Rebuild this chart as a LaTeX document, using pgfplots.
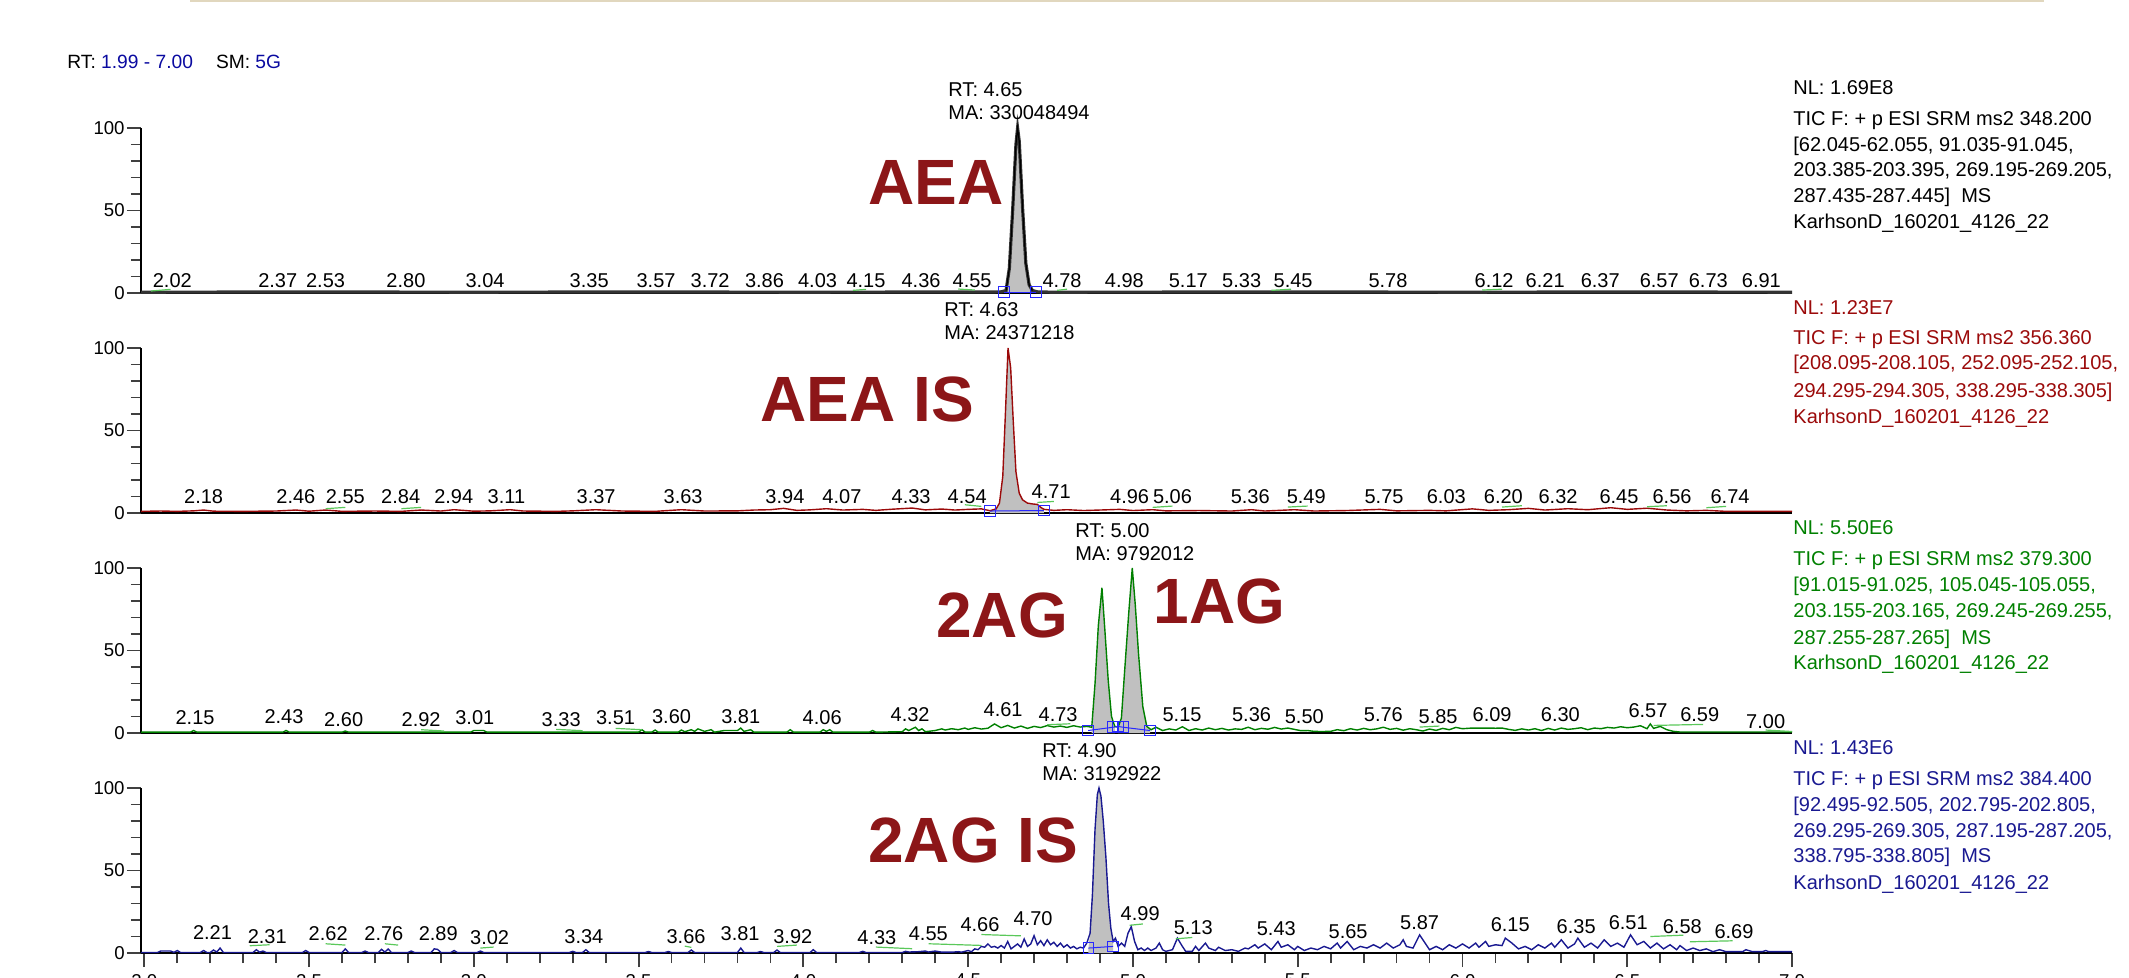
\documentclass[border=0pt]{standalone}
\usepackage{fontspec}
\setmainfont{Liberation Sans}
\usepackage{pgfplots}
\pgfplotsset{compat=1.18}

\definecolor{pkred}{RGB}{140,22,24}
\definecolor{trred}{RGB}{155,10,10}
\definecolor{trgreen}{RGB}{0,128,0}
\definecolor{trblue}{RGB}{25,25,145}
\definecolor{hdblue}{RGB}{10,10,160}
\definecolor{fillgray}{RGB}{192,192,192}
\definecolor{intblue}{RGB}{40,40,255}
\definecolor{tan}{RGB}{225,215,190}
\definecolor{dashgreen}{RGB}{90,200,90}

\newcommand\lbl{\fontsize{10}{12}\selectfont}
\newcommand\biglbl{\fontsize{32}{32}\selectfont\bfseries}

\pgfplotsset{chrom/.style={
  scale only axis, width=825.5pt, height=82.5pt,
  xmin=1.99, xmax=7.00, ymin=0, ymax=100,
  axis x line=bottom, axis y line=left,
  axis line style={-, line width=1pt, black},
  ytick={0,50,100}, minor ytick={10,20,30,40,60,70,80,90},
  tick align=outside, major tick length=7pt, minor tick length=5pt,
  tick style={line width=0.9pt, black!75},
  yticklabel style={font=\fontsize{9.3}{11}\selectfont, inner sep=1pt},
  /pgf/number format/assume math mode=true,
  clip=false, xtick=\empty, anchor=south west,
  unbounded coords=jump,
},
pklabels/.style={draw=none, mark=none, nodes near coords, point meta=explicit symbolic,
  every node near coord/.append style={anchor=base, inner sep=0pt, font=\lbl, text=black}},
intbox/.style={only marks, mark=square, mark size=2.7pt, mark options={draw=intblue, line width=0.5pt}},
dashes/.style={dashgreen, line width=0.6pt, mark=none},
}

\begin{document}
\begin{tikzpicture}
\useasboundingbox (0,0) rectangle (1064.5pt,-489pt);

% ---------------- Panel 1: AEA ----------------
\begin{axis}[chrom, at={(70.5pt,-146.5pt)}]
\addplot[fill=fillgray, draw=none] coordinates {
(4.609,0.4)(4.615,1.5)(4.625,15)(4.635,50)(4.645,90)(4.65,100)(4.655,92)(4.665,52)(4.675,18)(4.685,5)(4.695,1.5)(4.706,0.5)} \closedcycle;
\addplot[black!80, line width=1.6pt] coordinates {
(1.99,0.5)(2.5,0.6)(3.0,0.5)(3.5,0.6)(4.0,0.5)(4.55,0.6)(4.60,0.7)(4.615,1.5)(4.625,15)(4.635,50)(4.645,90)(4.65,100)(4.655,92)(4.665,52)(4.675,18)(4.685,5)(4.695,1.5)(4.71,0.7)(4.75,0.5)(5.5,0.6)(6.0,0.5)(6.5,0.6)(7.00,0.5)};
\addplot[black, line width=0.6pt] coordinates {(4.615,1.5)(4.625,15)(4.635,50)(4.645,90)(4.65,100)(4.655,92)(4.665,52)(4.675,18)(4.685,5)(4.695,1.5)};
\addplot[intblue, line width=0.5pt] coordinates {(4.609,0.5)(4.706,0.5)};
\addplot[intblue, intbox] coordinates {(4.609,0.5)(4.706,0.5)};
\addplot[dashes] coordinates {
(2.02,1.2)(2.08,2.2) (2.1,nan)
(4.15,1.6)(4.19,2.2) (4.2,nan)
(4.47,2.4)(4.52,1.8) (4.53,nan)
(4.77,1.6)(4.80,2.3) (4.81,nan)
(5.42,1.6)(5.48,2.3) (5.49,nan)
(6.06,1.8)(6.12,2.3)};
\addplot[pklabels] table[meta=l] {
x y l
2.085 3.6 2.02
2.405 3.6 2.37
2.550 3.6 2.53
2.794 3.6 2.80
3.034 3.6 3.04
3.35 3.6 3.35
3.553 3.6 3.57
3.717 3.6 3.72
3.882 3.6 3.86
4.043 3.6 4.03
4.19 3.6 4.15
4.357 3.6 4.36
4.512 3.6 4.55
4.785 3.6 4.78
4.974 3.6 4.98
5.168 3.6 5.17
5.33 3.6 5.33
5.486 3.6 5.45
5.774 3.6 5.78
6.096 3.6 6.12
6.251 3.6 6.21
6.418 3.6 6.37
6.597 3.6 6.57
6.746 3.6 6.73
6.907 3.6 6.91
};
\end{axis}

% ---------------- Panel 2: AEA IS ----------------
\begin{axis}[chrom, at={(70.5pt,-256.5pt)}]
\addplot[fill=fillgray, draw=none] coordinates {
(4.566,1.4)(4.57,1.6)(4.585,2.5)(4.595,6)(4.605,22)(4.613,60)(4.621,100)(4.629,88)(4.637,55)(4.645,25)(4.655,12)(4.665,8)(4.68,6)(4.695,5.5)(4.71,5.2)(4.72,3.5)(4.73,2.2)} \closedcycle;
\addplot[trred, line width=0.7pt] coordinates {
(1.99,1.0)(2.05,1.2)(2.10,1.0)(2.15,1.3)(2.18,1.8)(2.21,1.1)(2.30,1.0)(2.40,1.2)(2.46,1.8)(2.50,1.1)(2.55,1.8)(2.60,1.0)(2.70,1.2)(2.78,1.0)(2.84,1.8)(2.90,1.2)(2.94,2.0)(3.00,1.1)(3.05,1.3)(3.11,2.0)(3.15,1.2)(3.25,1.0)(3.30,1.3)(3.37,2.0)(3.45,1.2)(3.55,1.0)(3.63,2.0)(3.70,1.2)(3.80,1.3)(3.85,1.8)(3.90,2.0)(3.94,2.8)(3.98,1.6)(4.02,1.9)(4.07,2.6)(4.12,1.8)(4.18,2.2)(4.22,1.6)(4.27,2.3)(4.33,3.0)(4.37,1.9)(4.42,2.4)(4.46,1.8)(4.50,2.2)(4.54,2.5)(4.566,1.4)(4.57,1.6)(4.585,2.5)(4.595,6)(4.605,22)(4.613,60)(4.621,100)(4.629,88)(4.637,55)(4.645,25)(4.655,12)(4.665,8)(4.68,6)(4.695,5.5)(4.71,5.2)(4.72,3.5)(4.73,2.2)(4.76,1.6)(4.80,2.0)(4.85,1.5)(4.90,1.8)(4.96,2.2)(5.00,1.5)(5.06,2.0)(5.10,1.3)(5.20,1.5)(5.30,1.2)(5.36,2.0)(5.40,1.2)(5.49,2.0)(5.55,1.2)(5.65,1.5)(5.75,2.2)(5.80,1.3)(5.90,1.6)(5.95,1.3)(6.03,2.5)(6.08,1.6)(6.14,2.0)(6.20,2.8)(6.25,1.8)(6.32,2.6)(6.38,2.0)(6.45,3.2)(6.50,2.2)(6.56,2.9)(6.62,1.8)(6.68,1.3)(6.74,1.6)(6.80,1.0)(6.90,1.0)(7.00,1.0)};
\addplot[intblue, line width=0.5pt] coordinates {(4.566,1.2)(4.73,1.5)};
\addplot[intblue, intbox] coordinates {(4.566,1.2)(4.73,1.5)};
\addplot[dashes] coordinates {
(2.55,2.6)(2.61,3.4) (2.62,nan)
(2.78,2.6)(2.84,3.4) (2.85,nan)
(4.49,5.0)(4.54,4.0) (4.55,nan)
(4.71,6.4)(4.76,7.0) (4.77,nan)
(5.06,3.4)(5.12,4.2) (5.13,nan)
(5.47,3.6)(5.53,4.2) (5.54,nan)
(6.12,3.6)(6.18,4.4) (6.19,nan)
(6.56,3.8)(6.62,4.4) (6.63,nan)
(6.74,3.2)(6.80,4.0)};
\addplot[pklabels] table[meta=l] {
x y l
2.18 6 2.18
2.46 6 2.46
2.61 6 2.55
2.778 6 2.84
2.939 6 2.94
3.099 6 3.11
3.371 6 3.37
3.635 6 3.63
3.944 6 3.94
4.117 6 4.07
4.327 6 4.33
4.497 6 4.54
4.752 8.5 4.71
4.99 5.5 4.96
5.12 6 5.06
5.356 6 5.36
5.526 6 5.49
5.762 6 5.75
5.951 6 6.03
6.124 6 6.20
6.29 6 6.32
6.475 6 6.45
6.636 6 6.56
6.812 6 6.74
};
\end{axis}

% ---------------- Panel 3: 2AG / 1AG ----------------
\begin{axis}[chrom, at={(70.5pt,-366.5pt)}]
\addplot[fill=fillgray, draw=none] coordinates {
(4.875,3.5)(4.885,30)(4.895,65)(4.906,88)(4.915,62)(4.925,32)(4.935,10)(4.945,4)} \closedcycle;
\addplot[fill=fillgray, draw=none] coordinates {
(4.955,3.5)(4.965,9)(4.975,38)(4.987,72)(4.998,100)(5.007,78)(5.017,48)(5.03,16)(5.042,4)(5.052,2)} \closedcycle;
\addplot[trgreen, line width=0.7pt] coordinates {
(1.99,0.5)(2.10,0.5)(2.14,0.5)(2.15,1.5)(2.16,0.5)(2.42,0.5)(2.43,1.5)(2.44,0.5)(2.60,0.5)(2.61,1.2)(2.62,0.5)(2.92,0.5)(2.99,0.5)(3.00,1.5)(3.03,1.5)(3.04,0.5)(3.33,0.5)(3.50,0.5)(3.51,2.0)(3.52,0.5)(3.54,0.5)(3.55,1.8)(3.56,0.5)(3.62,0.5)(3.63,1.8)(3.64,0.8)(3.66,2.0)(3.67,1.0)(3.68,2.5)(3.70,1.0)(3.72,2.0)(3.73,0.5)(3.76,1.5)(3.80,1.5)(3.81,3.0)(3.82,1.0)(3.84,2.0)(3.85,0.5)(3.95,0.5)(3.96,2.0)(3.97,0.5)(4.05,0.5)(4.06,2.0)(4.07,1.0)(4.08,2.0)(4.09,0.5)(4.20,0.5)(4.21,1.5)(4.22,0.5)(4.30,0.8)(4.31,2.5)(4.32,1.5)(4.34,3.5)(4.35,1.5)(4.36,2.5)(4.37,0.8)(4.40,1.5)(4.42,2.5)(4.43,1.8)(4.45,2.6)(4.47,2.0)(4.49,3.0)(4.50,2.2)(4.52,3.2)(4.54,2.4)(4.56,2.9)(4.58,5.5)(4.60,3.2)(4.62,4.6)(4.64,3.0)(4.66,4.2)(4.68,2.8)(4.70,4.0)(4.72,3.3)(4.74,4.5)(4.76,3.6)(4.78,4.2)(4.80,3.4)(4.82,4.4)(4.84,3.6)(4.86,4.0)(4.875,3.5)(4.885,30)(4.895,65)(4.906,88)(4.915,62)(4.925,32)(4.935,10)(4.945,4)(4.955,3.5)(4.965,9)(4.975,38)(4.987,72)(4.998,100)(5.007,78)(5.017,48)(5.03,16)(5.042,4)(5.055,2)(5.07,3.5)(5.09,1.5)(5.11,2.5)(5.13,1.8)(5.15,3.8)(5.17,1.5)(5.19,2.6)(5.21,1.8)(5.23,3.0)(5.25,2.0)(5.27,2.8)(5.29,1.8)(5.31,2.5)(5.33,2.2)(5.35,3.5)(5.37,2.0)(5.39,2.8)(5.41,2.3)(5.43,3.4)(5.45,2.4)(5.47,3.0)(5.49,2.2)(5.51,1.4)(5.53,1.5)(5.55,1.0)(5.57,0.9)(5.60,1.0)(5.62,2.0)(5.64,1.4)(5.66,2.6)(5.68,1.8)(5.70,2.8)(5.72,2.0)(5.74,2.5)(5.76,3.5)(5.78,2.2)(5.80,2.8)(5.82,1.7)(5.84,2.6)(5.86,2.0)(5.88,1.2)(5.90,2.4)(5.92,1.6)(5.94,2.8)(5.96,2.0)(5.98,3.4)(6.00,2.6)(6.02,2.9)(6.04,3.0)(6.06,3.0)(6.08,3.0)(6.10,2.9)(6.12,3.0)(6.14,2.2)(6.16,1.6)(6.18,2.5)(6.20,1.8)(6.22,2.6)(6.24,1.5)(6.26,2.8)(6.28,1.8)(6.30,3.0)(6.32,2.2)(6.34,2.6)(6.36,3.2)(6.38,2.0)(6.40,3.0)(6.42,2.6)(6.44,3.4)(6.46,3.0)(6.48,3.8)(6.50,3.2)(6.52,3.6)(6.54,4.4)(6.56,2.6)(6.57,5.5)(6.58,2.8)(6.60,4.0)(6.62,2.0)(6.64,1.0)(6.66,0.6)(7.00,0.6)};
\addplot[intblue, line width=0.5pt] coordinates {(4.864,1.5)(4.94,3.5)(4.955,4)(4.97,3.5)(5.052,1.5)};
\addplot[intblue, intbox] coordinates {(4.864,1.5)(4.94,3.5)(4.955,4)(4.97,3.5)(5.052,1.5)};
\addplot[dashes] coordinates {
(2.84,2.0)(2.91,1.2) (2.92,nan)
(3.25,2.2)(3.33,1.4) (3.34,nan)
(3.43,2.8)(3.51,2.0) (3.52,nan)
(4.74,5.0)(4.81,5.6) (4.82,nan)
(5.87,3.6)(5.93,4.2) (5.94,nan)
(6.58,4.6)(6.73,5.2) (6.74,nan)
(6.92,1.8)(7.00,0.9)};
\addplot[pklabels] table[meta=l] {
x y l
2.154 5 2.15
2.424 5.5 2.43
2.605 4 2.60
2.84 4 2.92
3.003 5 3.01
3.265 4 3.33
3.43 5 3.51
3.60 6 3.60
3.81 6 3.81
4.057 5 4.06
4.324 7 4.32
4.606 10 4.61
4.773 7 4.73
5.149 6.7 5.15
5.36 6.7 5.36
5.52 6 5.50
5.76 6.7 5.76
5.926 6 5.85
6.09 6.7 6.09
6.297 6.7 6.30
6.563 9.7 6.57
6.72 7 6.59
6.92 3 7.00
};
\end{axis}

% ---------------- Panel 4: 2AG IS ----------------
\begin{axis}[chrom, at={(70.5pt,-476.5pt)},
  xtick={2,2.5,...,7}, minor x tick num=4,
  xticklabel style={font=\fontsize{9.3}{11}\selectfont, /pgf/number format/.cd, fixed, fixed zerofill, precision=1}]
\addplot[fill=fillgray, draw=none] coordinates {
(4.865,3)(4.87,12)(4.877,35)(4.885,75)(4.892,96)(4.897,100)(4.903,95)(4.91,80)(4.918,58)(4.926,30)(4.933,15)(4.94,7)} \closedcycle;
\addplot[trblue, line width=0.7pt] coordinates {
(1.99,0.3)(2.04,0.3)(2.05,1.2)(2.08,1.2)(2.09,0.4)(2.10,1.5)(2.11,0.3)(2.17,0.3)(2.18,1.5)(2.19,0.3)(2.20,0.3)(2.21,1.8)(2.22,0.6)(2.23,3.0)(2.24,0.3)(2.33,0.3)(2.34,2.0)(2.35,0.5)(2.36,1.2)(2.37,0.3)(2.48,0.3)(2.49,1.5)(2.50,0.3)(2.60,0.3)(2.61,2.5)(2.62,0.3)(2.66,0.3)(2.67,1.2)(2.68,0.3)(2.71,0.3)(2.72,2.2)(2.73,0.6)(2.74,2.4)(2.75,0.3)(2.80,0.3)(2.81,1.2)(2.82,0.3)(2.87,0.3)(2.88,2.5)(2.89,2.2)(2.90,0.3)(2.93,0.3)(2.94,1.5)(2.95,0.3)(3.01,0.3)(3.02,1.2)(3.03,0.3)(3.29,0.3)(3.30,1.0)(3.31,0.3)(3.33,0.3)(3.34,2.0)(3.35,0.3)(3.52,0.3)(3.53,0.9)(3.54,0.3)(3.58,0.3)(3.59,0.9)(3.60,0.3)(3.65,0.3)(3.66,1.8)(3.67,0.3)(3.80,0.3)(3.81,3.0)(3.82,0.3)(3.86,0.3)(3.87,0.9)(3.88,0.3)(3.91,0.3)(3.92,1.8)(3.93,0.3)(4.02,0.3)(4.03,2.0)(4.04,0.3)(4.17,0.3)(4.18,1.0)(4.19,0.3)(4.30,0.3)(4.31,1.0)(4.32,0.6)(4.35,0.8)(4.37,1.2)(4.38,0.6)(4.40,1.2)(4.42,0.5)(4.45,0.5)(4.47,0.8)(4.48,0.5)(4.50,1.5)(4.51,0.8)(4.52,2.5)(4.53,2.0)(4.54,4.0)(4.55,3.5)(4.56,5.5)(4.57,3.5)(4.58,4.0)(4.59,3.0)(4.60,4.5)(4.61,3.0)(4.62,7.0)(4.63,2.5)(4.64,4.0)(4.65,5.5)(4.66,3.5)(4.67,8.5)(4.68,4.0)(4.69,5.5)(4.70,10.5)(4.71,5.0)(4.72,7.5)(4.73,4.5)(4.74,8.0)(4.75,5.0)(4.76,6.5)(4.77,4.0)(4.78,6.0)(4.79,3.5)(4.80,5.0)(4.81,3.0)(4.82,4.0)(4.83,2.5)(4.84,3.5)(4.85,3.0)(4.86,6.0)(4.87,12)(4.877,35)(4.885,75)(4.892,96)(4.897,100)(4.903,95)(4.91,80)(4.918,58)(4.926,30)(4.933,15)(4.94,7)(4.947,9)(4.955,4)(4.965,6)(4.975,4)(4.985,12)(4.995,16)(5.005,7)(5.015,2)(5.025,3)(5.035,1.5)(5.045,3)(5.055,1.5)(5.07,3)(5.08,6)(5.09,2)(5.10,1)(5.12,2)(5.135,9)(5.15,4)(5.16,1)(5.18,1)(5.19,4)(5.20,1.5)(5.22,6)(5.23,3)(5.25,1.5)(5.26,3.5)(5.28,1.5)(5.30,2)(5.32,1)(5.34,3)(5.35,2.5)(5.37,5)(5.38,3)(5.40,5.5)(5.42,2)(5.44,7)(5.45,3.5)(5.47,5)(5.49,2)(5.50,4)(5.52,1.5)(5.54,3)(5.56,2)(5.58,4)(5.60,2.5)(5.62,6)(5.63,3)(5.65,7)(5.67,2)(5.69,4)(5.71,3)(5.73,5)(5.75,3)(5.77,6)(5.79,3)(5.81,5)(5.82,8)(5.83,4)(5.85,3)(5.87,11)(5.89,5)(5.90,2)(5.92,4)(5.94,2)(5.96,5)(5.98,3)(6.00,5.5)(6.02,3)(6.04,6)(6.05,3.5)(6.07,7)(6.08,4)(6.10,5)(6.12,4.5)(6.13,9)(6.15,6)(6.17,2.5)(6.19,4)(6.21,2)(6.23,5)(6.25,3)(6.27,6)(6.28,3.5)(6.30,8)(6.32,3)(6.34,5.5)(6.35,9)(6.37,3.5)(6.39,6)(6.41,3)(6.43,8)(6.45,4)(6.47,6)(6.49,3.5)(6.51,11)(6.53,5)(6.55,7)(6.57,3)(6.59,6)(6.61,2.5)(6.63,5)(6.65,2)(6.66,4.5)(6.68,1.5)(6.70,3)(6.72,1.5)(6.74,2.5)(6.76,0.8)(6.78,2)(6.80,0.8)(6.85,0.8)(6.86,2)(6.88,0.8)(6.91,0.8)(6.92,1.5)(6.93,0.8)(7.00,0.8)};
\addplot[intblue, line width=0.5pt] coordinates {(4.865,3)(4.94,4)};
\addplot[intblue, intbox] coordinates {(4.865,3)(4.94,4)};
\addplot[dashes] coordinates {
(2.32,4.4)(2.38,5.0) (2.39,nan)
(2.55,5.6)(2.61,4.8) (2.62,nan)
(2.73,5.6)(2.77,4.8) (2.78,nan)
(3.02,3.0)(3.06,3.6) (3.07,nan)
(3.64,4.2)(3.66,3.4) (3.67,nan)
(3.92,4.0)(3.98,4.8) (3.99,nan)
(4.22,3.6)(4.33,2.6) (4.34,nan)
(4.38,5.6)(4.54,4.6) (4.55,nan)
(4.54,11.2)(4.66,10.4) (4.67,nan)
(4.99,16.8)(5.03,17.6) (5.04,nan)
(5.13,8.6)(5.18,9.4) (5.19,nan)
(6.57,10.0)(6.67,10.8) (6.68,nan)
(6.69,6.8)(6.82,7.4)};
\addplot[pklabels] table[meta=l] {
x y l
2.207 8 2.21
2.373 6 2.31
2.558 7.5 2.62
2.727 7.5 2.76
2.892 7.5 2.89
3.048 5 3.02
3.334 6 3.34
3.644 6 3.66
3.808 7.5 3.81
3.968 6 3.92
4.223 5 4.33
4.379 7.5 4.55
4.536 13 4.66
4.697 16.5 4.70
5.022 19.8 4.99
5.183 11 5.13
5.435 10.5 5.43
5.653 9 5.65
5.87 14.5 5.87
6.145 13 6.15
6.345 12 6.35
6.503 14 6.51
6.667 12 6.58
6.824 9 6.69
};
\end{axis}

% ---------------- Texts (pixel coordinates) ----------------
\begin{scope}[x=0.5pt,y=-0.5pt]
\draw[tan, line width=1.5pt] (190,1) -- (2044,1);
\node[anchor=base west, inner sep=0pt, font=\fontsize{9.6}{11}\selectfont] at (67,69)
  {RT: \textcolor{hdblue}{1.99 - 7.00}\hspace{1.2em}SM: \textcolor{hdblue}{5G}};

\begin{scope}[every node/.style={anchor=base west, inner sep=0pt, font=\fontsize{10}{12}\selectfont}]
% panel 1
\node at (1793,95) {NL: 1.69E8};
\node at (1793,126) {TIC F: + p ESI SRM ms2 348.200};
\node at (1793,152) {[62.045-62.055, 91.035-91.045,};
\node at (1793,177) {203.385-203.395, 269.195-269.205,};
\node at (1793,203) {287.435-287.445]\ \ MS};
\node at (1793,229) {KarhsonD\_160201\_4126\_22};
% panel 2
\node[text=trred] at (1793,315) {NL: 1.23E7};
\node[text=trred] at (1793,344) {TIC F: + p ESI SRM ms2 356.360};
\node[text=trred] at (1793,370) {[208.095-208.105, 252.095-252.105,};
\node[text=trred] at (1793,397) {294.295-294.305, 338.295-338.305]};
\node[text=trred] at (1793,423) {KarhsonD\_160201\_4126\_22};
% panel 3
\node[text=trgreen] at (1793,534) {NL: 5.50E6};
\node[text=trgreen] at (1793,565) {TIC F: + p ESI SRM ms2 379.300};
\node[text=trgreen] at (1793,591) {[91.015-91.025, 105.045-105.055,};
\node[text=trgreen] at (1793,617) {203.155-203.165, 269.245-269.255,};
\node[text=trgreen] at (1793,644) {287.255-287.265]\ \ MS};
\node[text=trgreen] at (1793,669) {KarhsonD\_160201\_4126\_22};
% panel 4
\node[text=trblue] at (1793,754) {NL: 1.43E6};
\node[text=trblue] at (1793,785) {TIC F: + p ESI SRM ms2 384.400};
\node[text=trblue] at (1793,811) {[92.495-92.505, 202.795-202.805,};
\node[text=trblue] at (1793,837) {269.295-269.305, 287.195-287.205,};
\node[text=trblue] at (1793,862) {338.795-338.805]\ \ MS};
\node[text=trblue] at (1793,889) {KarhsonD\_160201\_4126\_22};
% peak annotations
\node at (948,97) {RT: 4.65};
\node at (948,120) {MA: 330048494};
\node at (944,317) {RT: 4.63};
\node at (944,340) {MA: 24371218};
\node at (1075,537) {RT: 5.00};
\node at (1075,560) {MA: 9792012};
\node at (1042,757) {RT: 4.90};
\node at (1042,780) {MA: 3192922};
\end{scope}

\begin{scope}[every node/.style={anchor=base west, inner sep=0pt, font=\biglbl, text=pkred}]
\node at (868,205) {AEA};
\node at (760,422) {AEA IS};
\node at (936,637) {2AG};
\node at (1153,623) {1AG};
\node at (868,862) {2AG IS};
\end{scope}
\end{scope}
\end{tikzpicture}
\end{document}
